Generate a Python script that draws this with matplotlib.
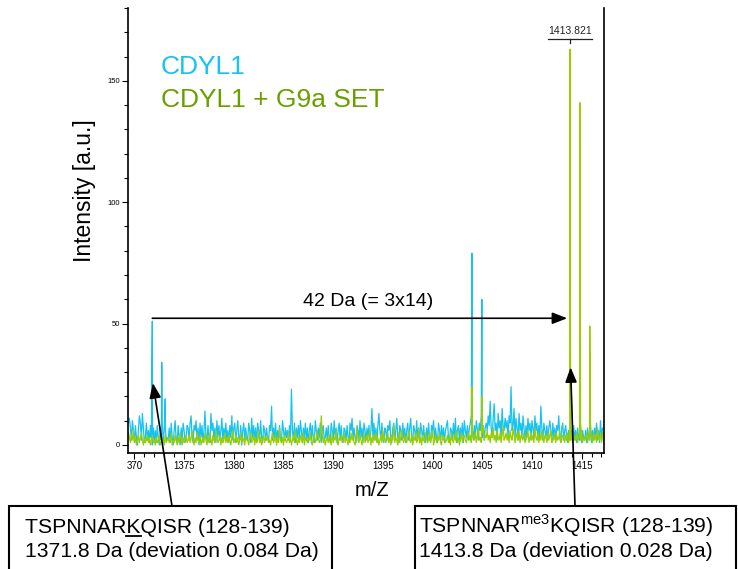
import numpy as np
import matplotlib
matplotlib.use("Agg")
import matplotlib.pyplot as plt
from matplotlib.lines import Line2D
from matplotlib.patches import Rectangle
from matplotlib.ticker import FixedLocator, FixedFormatter, MultipleLocator

plt.rcParams['font.family'] = ['Liberation Sans', 'DejaVu Sans']
plt.rcParams['mathtext.fontset'] = 'custom'
plt.rcParams['mathtext.rm'] = 'Liberation Sans'

# spectrum noise, sampled every 0.1 Da starting at 1369.4 (one row = 2 Da)
MZ_START = 1369.4
MZ_STEP = 0.1
blue_noise = [
    9, 11, 7, 2, 10, 6, 1, 8, 3, 0, 6, 12, 9, 2, 13, 7, 1, 3, 9, 2,
    6, 1, 8, 3, 0, 7, 2, 6, 1, 8, 3, 0, 7, 2, 9, 1, 6, 8, 2, 3,
    2, 7, 1, 9, 3, 0, 6, 10, 2, 1, 8, 3, 0, 7, 2, 9, 6, 1, 3, 8,
    7, 2, 9, 12, 3, 1, 8, 6, 10, 2, 7, 0, 9, 3, 8, 1, 6, 14, 3, 2,
    8, 3, 1, 13, 6, 9, 2, 7, 1, 10, 3, 8, 2, 6, 11, 1, 7, 3, 9, 2,
    6, 1, 8, 3, 12, 2, 7, 9, 1, 6, 10, 3, 2, 8, 0, 6, 9, 2, 7, 3,
    2, 9, 6, 1, 11, 3, 8, 2, 7, 1, 9, 6, 2, 10, 3, 1, 8, 6, 2, 7,
    3, 1, 8, 6, 16, 2, 7, 3, 9, 1, 6, 2, 8, 3, 1, 10, 6, 2, 7, 3,
    6, 2, 8, 3, 23, 6, 2, 9, 1, 7, 3, 8, 2, 10, 6, 1, 7, 3, 9, 2,
    7, 1, 6, 9, 2, 8, 3, 1, 10, 6, 2, 7, 3, 9, 1, 6, 8, 2, 3, 7,
    2, 8, 3, 1, 9, 6, 2, 10, 3, 7, 1, 6, 9, 2, 8, 3, 1, 7, 6, 2,
    8, 3, 1, 9, 6, 11, 2, 7, 3, 1, 8, 6, 2, 10, 3, 7, 1, 9, 6, 2,
    7, 3, 8, 2, 6, 15, 3, 9, 2, 7, 1, 8, 13, 6, 2, 9, 3, 1, 7, 6,
    2, 8, 6, 10, 3, 1, 7, 9, 2, 6, 11, 3, 1, 8, 6, 2, 9, 3, 7, 1,
    6, 9, 2, 7, 11, 3, 1, 8, 6, 2, 10, 3, 7, 1, 9, 6, 2, 8, 3, 1,
    7, 2, 9, 3, 1, 8, 6, 10, 2, 7, 3, 1, 9, 6, 2, 8, 3, 7, 1, 6,
    8, 10, 3, 1, 7, 6, 2, 9, 3, 11, 1, 6, 8, 2, 7, 3, 9, 1, 10, 6,
    3, 8, 2, 7, 9, 12, 6, 2, 8, 3, 10, 7, 2, 9, 6, 12, 3, 8, 2, 7,
    9, 6, 12, 8, 18, 7, 3, 11, 17, 6, 9, 2, 13, 7, 10, 3, 15, 8, 6, 11,
    7, 10, 3, 12, 9, 24, 6, 8, 15, 3, 11, 7, 2, 13, 6, 9, 3, 12, 7, 2,
    8, 3, 11, 6, 9, 2, 10, 7, 3, 12, 6, 9, 2, 8, 3, 16, 7, 2, 9, 6,
    3, 8, 2, 7, 10, 6, 1, 9, 3, 7, 2, 8, 6, 12, 3, 1, 7, 9, 2, 6,
    8, 3, 1, 6, 2, 7, 3, 1, 8, 2, 6, 1, 7, 3, 2, 8, 1, 6, 3, 2,
    6, 1, 7, 3, 2, 8, 1, 6, 2, 7, 3, 9, 2, 6, 1, 10, 3, 7, 2, 8,
]
green_noise = [
    5, 3, 1, 4, 2, 6, 1, 3, 0, 2, 4, 1, 3, 5, 2, 0, 3, 1, 2, 4,
    1, 3, 0, 2, 4, 1, 2, 0, 3, 1, 2, 4, 0, 1, 3, 2, 0, 4, 1, 2,
    3, 1, 2, 5, 0, 2, 1, 4, 2, 0, 3, 1, 5, 2, 0, 3, 1, 2, 4, 1,
    2, 4, 1, 3, 6, 2, 0, 3, 1, 5, 2, 1, 4, 0, 2, 3, 1, 5, 2, 0,
    3, 1, 5, 2, 0, 4, 2, 1, 6, 3, 1, 2, 4, 0, 3, 1, 2, 5, 1, 3,
    1, 4, 2, 0, 3, 6, 1, 2, 4, 1, 3, 0, 2, 5, 1, 3, 2, 0, 4, 2,
    2, 0, 3, 5, 1, 2, 4, 0, 3, 1, 2, 6, 1, 3, 0, 2, 4, 1, 3, 2,
    4, 1, 2, 0, 3, 5, 1, 2, 4, 0, 3, 1, 7, 2, 1, 3, 0, 4, 2, 1,
    2, 5, 1, 3, 0, 2, 4, 1, 6, 2, 0, 3, 1, 4, 2, 1, 5, 0, 3, 2,
    1, 3, 2, 5, 1, 0, 3, 4, 1, 2, 6, 3, 1, 2, 12, 4, 1, 3, 0, 2,
    3, 1, 4, 2, 0, 5, 1, 3, 2, 6, 1, 0, 3, 2, 4, 1, 2, 5, 1, 3,
    2, 0, 3, 1, 5, 2, 4, 1, 0, 3, 7, 2, 1, 4, 2, 0, 3, 5, 1, 2,
    4, 1, 2, 6, 0, 3, 1, 4, 2, 5, 1, 3, 0, 2, 4, 1, 6, 2, 3, 1,
    2, 5, 1, 3, 0, 4, 2, 8, 1, 3, 2, 0, 5, 1, 3, 6, 2, 1, 4, 2,
    1, 3, 6, 2, 1, 4, 0, 3, 2, 5, 1, 2, 7, 1, 3, 0, 4, 2, 1, 5,
    3, 1, 2, 5, 1, 3, 6, 0, 2, 4, 1, 3, 2, 5, 1, 0, 4, 2, 3, 1,
    2, 4, 1, 3, 0, 5, 2, 1, 4, 2, 6, 1, 3, 0, 2, 5, 1, 3, 4, 2,
    1, 3, 5, 2, 4, 1, 6, 3, 2, 5, 1, 4, 7, 2, 3, 1, 5, 8, 2, 4,
    3, 6, 2, 4, 1, 5, 3, 7, 2, 4, 1, 6, 3, 2, 5, 1, 4, 8, 2, 3,
    5, 2, 4, 1, 6, 3, 2, 7, 4, 1, 3, 5, 2, 6, 1, 4, 3, 2, 5, 1,
    2, 4, 6, 1, 3, 5, 2, 4, 1, 7, 3, 2, 5, 1, 4, 2, 6, 3, 1, 4,
    3, 1, 5, 2, 4, 6, 1, 3, 2, 5, 1, 4, 2, 3, 6, 1, 2, 4, 3, 1,
    4, 2, 5, 1, 3, 2, 6, 1, 4, 3, 2, 5, 1, 3, 4, 2, 6, 1, 3, 2,
    3, 5, 1, 4, 2, 6, 3, 1, 5, 2, 4, 1, 7, 3, 2, 5, 1, 4, 6, 2,
]

# resolved peaks
blue_peak_mz = [1371.8, 1372.75, 1373.1, 1403.96, 1404.96]
blue_peak_h = [51, 34, 19, 79, 60]
green_peak_mz = [1403.96, 1404.96, 1413.82, 1414.82, 1415.82]
green_peak_h = [24, 20, 163, 141, 49]

x_ticks = [1370, 1375, 1380, 1385, 1390, 1395, 1400, 1405, 1410, 1415]
x_tick_labels = ["370", "1375", "1380", "1385", "1390", "1395", "1400", "1405", "1410", "1415"]
y_ticks = [0, 50, 100, 150]

BLUE = '#16C2F2'
GREEN = '#9ACC00'
GREEN_TXT = '#6A9F00'


def spectrum(noise, peak_mz, peak_h):
    mz = MZ_START + MZ_STEP * np.arange(len(noise))
    x = np.concatenate([mz, peak_mz])
    y = np.concatenate([noise, peak_h]).astype(float)
    order = np.argsort(x)
    return x[order], y[order]


W, H = 738, 569
fig = plt.figure(figsize=(W / 100, H / 100), dpi=100)
ax = fig.add_axes([0.1734, 0.2039, 0.6450, 0.7820])

bx, by = spectrum(blue_noise, blue_peak_mz, blue_peak_h)
gx, gy = spectrum(green_noise, green_peak_mz, green_peak_h)
ax.plot(bx, by, color=BLUE, lw=0.9)
ax.plot(gx, gy, color=GREEN, lw=0.9)

ax.set_xlim(1369.35, 1417.25)
ax.set_ylim(-3.3, 180)

ax.spines['top'].set_visible(False)
for s in ['left', 'right', 'bottom']:
    ax.spines[s].set_linewidth(1.2)

ax.xaxis.set_major_locator(FixedLocator(x_ticks))
ax.xaxis.set_major_formatter(FixedFormatter(x_tick_labels))
ax.xaxis.set_minor_locator(MultipleLocator(1))
ax.yaxis.set_major_locator(FixedLocator(y_ticks))
ax.yaxis.set_minor_locator(MultipleLocator(10))
ax.tick_params(axis='x', which='major', length=4, width=0.8, labelsize=7, pad=2)
ax.tick_params(axis='x', which='minor', length=3, width=0.8)
ax.tick_params(axis='y', which='major', length=4, width=0.8, labelsize=5.5, pad=2)
ax.tick_params(axis='y', which='minor', length=3, width=0.8)

ax.set_xlabel('m/Z', fontsize=14.5)
ax.xaxis.set_label_coords(0.513, -0.062)
ax.set_ylabel('Intensity [a.u.]', fontsize=16.5)
ax.yaxis.set_label_coords(-0.068, 0.589)

# legend-like labels
ax.text(0.069, 0.852, 'CDYL1', color=BLUE, fontsize=19, transform=ax.transAxes, va='baseline')
ax.text(0.069, 0.778, 'CDYL1 + G9a SET', color=GREEN_TXT, fontsize=19, transform=ax.transAxes, va='baseline')

# peak label
top_mz = green_peak_mz[2]
ax.text(top_mz, 168.3, '1413.821', fontsize=7.5, ha='center', va='bottom', color='#222222')
ax.plot([top_mz - 2.2, top_mz + 2.2], [167.1, 167.1], color='#222222', lw=0.9, clip_on=False)
ax.plot([top_mz, top_mz], [167.1, 165.6], color='#222222', lw=0.9, clip_on=False)

# 42 Da arrow
arrow_kw = dict(arrowstyle='-|>,head_length=0.9,head_width=0.35', color='black', lw=1.2,
                shrinkA=0, shrinkB=0)
ax.annotate('', xy=(1413.55, 52.2), xytext=(blue_peak_mz[0], 52.2), arrowprops=arrow_kw)
ax.text(1393.5, 55.5, '42 Da (= 3x14)', fontsize=14, ha='center', va='bottom')

# arrows from the boxes
ax.annotate('', xy=(1371.86, 25.5), xytext=(172 / W, 1 - 506 / H), textcoords='figure fraction',
            arrowprops=arrow_kw, annotation_clip=False)
ax.annotate('', xy=(1413.89, 32), xytext=(575 / W, 1 - 506 / H), textcoords='figure fraction',
            arrowprops=arrow_kw, annotation_clip=False)

# boxes
fig.add_artist(Rectangle((9 / W, -0.05), (332 - 9) / W, 0.05 + 1 - 506 / H, transform=fig.transFigure,
                         fill=False, edgecolor='black', lw=1.5))
fig.add_artist(Rectangle((415 / W, -0.05), (736 - 415) / W, 0.05 + 1 - 506 / H, transform=fig.transFigure,
                         fill=False, edgecolor='black', lw=1.5))

box_fs = 15.2
left_line1 = 'TSPNNARKQISR (128-139)'
t1 = fig.text(25 / W, 1 - 533 / H, left_line1, fontsize=box_fs, ha='left', va='baseline')
fig.text(25 / W, 1 - 557 / H, '1371.8 Da (deviation 0.084 Da)', fontsize=box_fs, ha='left', va='baseline')
fig.text(419 / W, 1 - 533 / H, r'TSPNNAR$^{\mathrm{me3}}$KQISR (128-139)', fontsize=box_fs,
         ha='left', va='baseline')
fig.text(419 / W, 1 - 557 / H, '1413.8 Da (deviation 0.028 Da)', fontsize=box_fs, ha='left', va='baseline')

# underline the modified lysine
renderer = fig.canvas.get_renderer()
bb = t1.get_window_extent(renderer)
tmp_a = fig.text(0, 0, 'TSPNNAR', fontsize=box_fs)
tmp_b = fig.text(0, 0, 'TSPNNARK', fontsize=box_fs)
wa = tmp_a.get_window_extent(renderer).width
wb = tmp_b.get_window_extent(renderer).width
tmp_a.remove()
tmp_b.remove()
uy = 1 - 535.5 / H
fig.add_artist(Line2D([(bb.x0 + wa) / W, (bb.x0 + wb) / W], [uy, uy], transform=fig.transFigure,
                      color='black', lw=1.3))

fig.savefig('out.png', dpi=100)
